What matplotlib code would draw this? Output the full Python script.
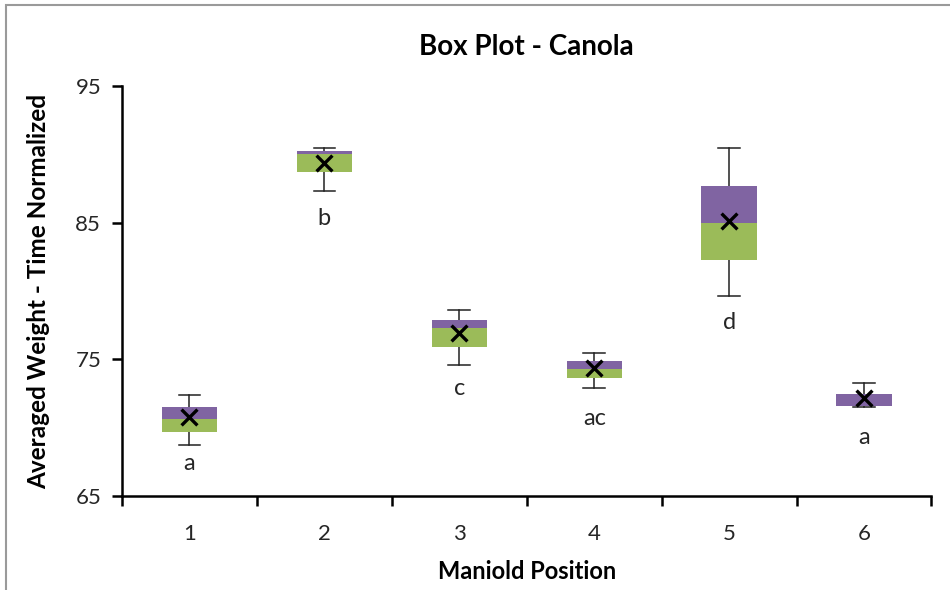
import matplotlib
matplotlib.use("Agg")
import matplotlib.pyplot as plt
from matplotlib.patches import Rectangle

positions = [1, 2, 3, 4, 5, 6]
whisker_low = [68.7, 87.3, 74.6, 72.9, 79.6, 71.5]
q1 = [69.7, 88.7, 75.9, 73.6, 82.3, 71.55]
median = [70.6, 90.05, 77.3, 74.3, 85.0, 71.6]
q3 = [71.5, 90.25, 77.9, 74.9, 87.7, 72.45]
whisker_high = [72.4, 90.5, 78.6, 75.5, 90.5, 73.3]
means = [70.75, 89.4, 76.9, 74.35, 85.15, 72.15]
group_letters = ["a", "b", "c", "ac", "d", "a"]
letter_y = [67.4, 85.3, 72.9, 70.7, 77.7, 69.3]
tick_labels = ["1", "2", "3", "4", "5", "6"]

purple = "#8064A2"
green = "#9BBB59"

plt.rcParams['font.family'] = ['Lato', 'DejaVu Sans']

fig = plt.figure(figsize=(9.5, 5.9), dpi=100)
ax = fig.add_axes([122/950, 1-496/590, (931.5-122)/950, (496-86)/590])

w = 0.41
ax.bar(positions, [m - a for m, a in zip(median, q1)], bottom=q1, width=w,
       color=green, edgecolor='none', zorder=2)
ax.bar(positions, [b - m for m, b in zip(median, q3)], bottom=median, width=w,
       color=purple, edgecolor='none', zorder=2)

cap = 0.08
for x, lo, a, b, hi in zip(positions, whisker_low, q1, q3, whisker_high):
    ax.plot([x, x], [lo, a], color='#222222', lw=1.1, zorder=1)
    ax.plot([x, x], [b, hi], color='#222222', lw=1.1, zorder=1)
    ax.plot([x - cap, x + cap], [lo, lo], color='#222222', lw=1.1, zorder=1)
    ax.plot([x - cap, x + cap], [hi, hi], color='#222222', lw=1.1, zorder=1)

ax.scatter(positions, means, marker='x', s=130, color='black', linewidths=2.4, zorder=3)

for x, y, t in zip(positions, letter_y, group_letters):
    ax.text(x, y, t, ha='center', va='center', fontsize=17, color='#262626')

ax.set_xlim(0.5, 6.5)
ax.set_ylim(65, 95)
ax.set_yticks([65, 75, 85, 95])
ax.set_xticks(positions)
ax.set_xticklabels(tick_labels)
ax.set_xticks([0.5, 1.5, 2.5, 3.5, 4.5, 5.5, 6.5], minor=True)
ax.tick_params(axis='x', which='major', length=0, pad=20, labelsize=16, colors='#262626')
ax.tick_params(axis='x', which='minor', length=7, width=1.8, direction='out', color='black')
ax.tick_params(axis='y', length=7, width=1.8, direction='out', pad=8, labelsize=16, colors='#262626')
ax.tick_params(axis='y', color='black')
for s in ['top', 'right']:
    ax.spines[s].set_visible(False)
for s in ['left', 'bottom']:
    ax.spines[s].set_linewidth(1.8)
    ax.spines[s].set_color('black')

ax.set_title("Box Plot - Canola", fontsize=20, fontweight='bold', pad=22, color='black')
ax.set_xlabel("Maniold Position", fontsize=17, fontweight='bold', labelpad=12)
ax.set_ylabel("Averaged Weight - Time Normalized", fontsize=17.5, fontweight='bold', labelpad=18)

fig.add_artist(Rectangle((6/950, -0.1), 1.2, 1 - 5/590 + 0.1, transform=fig.transFigure,
                         fill=False, edgecolor='#9a9a9a', lw=1.5))

fig.savefig("out.png", dpi=100)
